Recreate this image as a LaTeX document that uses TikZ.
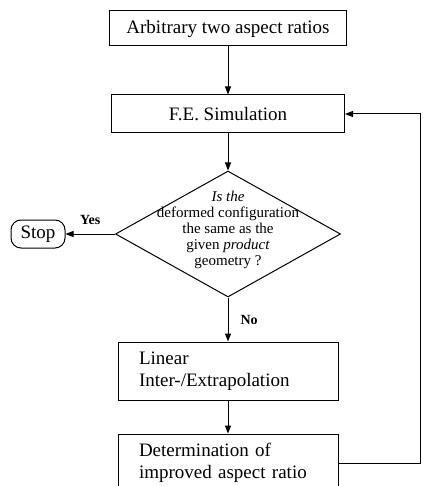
\documentclass[tikz,border=0pt]{standalone}
\usepackage{fontspec}
\setmainfont{Liberation Serif}
\usetikzlibrary{shapes.geometric,arrows.meta}
\begin{document}
\begin{tikzpicture}[x=1pt, y=1pt, line width=1pt,
    >={Triangle[length=8pt,width=6pt]},
    box/.style={draw, rectangle, inner sep=0pt, font=\fontsize{19}{22}\selectfont},
    textbox/.style={box, align=left, text width=178pt, inner xsep=21pt, minimum height=58pt},
    decision/.style={draw, diamond, inner sep=0pt, minimum width=225pt, minimum height=126pt,
      font=\fontsize{15}{16}\selectfont},
    term/.style={draw, rectangle, rounded corners=10pt, inner sep=0pt, minimum width=54pt,
      minimum height=28pt, font=\fontsize{19}{22}\selectfont},
    answer/.style={font=\fontsize{14}{16}\selectfont\bfseries, inner sep=0pt}]
  \path[use as bounding box, clip] (0,0) rectangle (422,-486);
  \node (1) [box, minimum width=237pt, minimum height=35pt] at (228,-28.5) {Arbitrary two aspect ratios};
  \node (2) [box, minimum width=233pt, minimum height=38pt, below of=1, node distance=85.5pt] {F.E. Simulation};
  \node (3) [decision, below of=2, node distance=120pt] {\makebox[0pt]{\smash{\begin{tabular}{@{}c@{}}
      \textit{Is the}\\ deformed configuration\\ the same as the\\ given \textit{product}\\ geometry ?
    \end{tabular}}}};
  \node (4) [term, left of=3, node distance=190pt] {Stop};
  \node (5) [textbox, below of=3, node distance=137pt] {Linear\\Inter-/Extrapolation};
  \node (6) [textbox, below of=5, node distance=92pt] {Determination of\\improved aspect ratio};
  \coordinate (7) at (420,0);
  \path[->] (1) edge node {} (2)
            (2) edge node {} (3)
            (3) edge node[answer, above=9pt] {Yes} (4)
            (3) edge node[answer, right=12pt] {No} (5)
            (5) edge node {} (6)
            ;
  \draw[->] (6.east) -- (6.east -| 7) |- (2.east);
\end{tikzpicture}
\end{document}
